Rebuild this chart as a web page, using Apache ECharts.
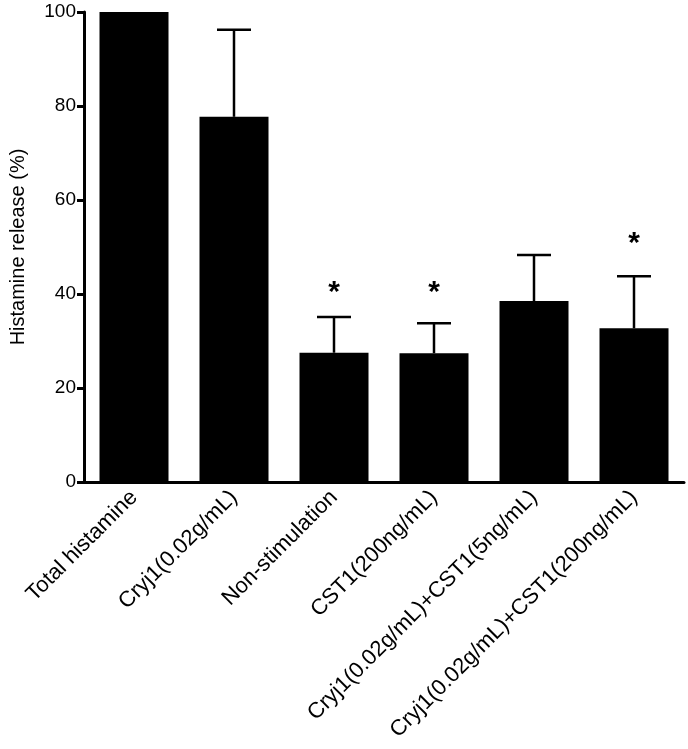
<!DOCTYPE html>
<html>
<head>
<meta charset="utf-8">
<script src="https://cdn.jsdelivr.net/npm/echarts@6/dist/echarts.min.js"></script>
<style>
  html, body { margin: 0; padding: 0; background: #fff; }
  #chart { width: 688px; height: 749px; }
</style>
</head>
<body>
<div id="chart"></div>
<script>
// data
var categories = ['Total histamine', 'Cryj1(0.02g/mL)', 'Non-stimulation', 'CST1(200ng/mL)',
                  'Cryj1(0.02g/mL)+CST1(5ng/mL)', 'Cryj1(0.02g/mL)+CST1(200ng/mL)'];
var means = [100, 77.7, 27.5, 27.4, 38.5, 32.7];
var errTops = [null, 96.2, 35.1, 33.8, 48.3, 43.8];
var starAt = [null, null, 41.6, 41.6, null, 51.9];
var yTicks = [0, 20, 40, 60, 80, 100];

var chart = echarts.init(document.getElementById('chart'));

var font = 'Liberation Sans, Arial, sans-serif';

var option = {
    backgroundColor: '#fff',
    animation: false,
    grid: { left: 84, right: 4, top: 12, bottom: 267 },
    xAxis: {
        type: 'category',
        data: categories,
        axisLine: { lineStyle: { color: '#000', width: 3 } },
        axisTick: { alignWithLabel: true, length: 7, lineStyle: { color: '#000', width: 3 } },
        axisLabel: {
            rotate: 45, interval: 0, margin: 12,
            color: '#000', fontSize: 22, fontFamily: font
        }
    },
    yAxis: {
        type: 'value',
        min: yTicks[0], max: yTicks[yTicks.length - 1], interval: 20,
        name: 'Histamine release (%)',
        nameLocation: 'middle',
        nameGap: 56,
        nameTextStyle: { color: '#000', fontSize: 20, fontFamily: font },
        axisLine: { show: true, lineStyle: { color: '#000', width: 3 } },
        axisTick: { show: true, length: 7, lineStyle: { color: '#000', width: 3 } },
        axisLabel: { color: '#000', fontSize: 19, fontFamily: font, margin: 8 },
        splitLine: { show: false }
    },
    series: [
        {
            type: 'bar',
            data: means,
            barWidth: '69%',
            itemStyle: { color: '#000' },
            z: 2
        },
        {
            // error bars (upper only)
            type: 'custom',
            data: errTops.map(function (v, i) { return [i, means[i], v]; }),
            renderItem: function (params, api) {
                if (api.value(2) == null || isNaN(api.value(2))) return;
                var base = api.coord([api.value(0), api.value(1)]);
                var top = api.coord([api.value(0), api.value(2)]);
                var half = 17;
                var st = { stroke: '#000', lineWidth: 2.5 };
                return {
                    type: 'group',
                    children: [
                        { type: 'line', shape: { x1: base[0], y1: base[1], x2: top[0], y2: top[1] }, style: st },
                        { type: 'line', shape: { x1: top[0] - half, y1: top[1], x2: top[0] + half, y2: top[1] }, style: st }
                    ]
                };
            },
            z: 3
        },
        {
            // significance stars
            type: 'custom',
            data: starAt.map(function (v, i) { return [i, v]; }),
            renderItem: function (params, api) {
                if (api.value(1) == null || isNaN(api.value(1))) return;
                var p = api.coord([api.value(0), api.value(1)]);
                return {
                    type: 'text',
                    x: p[0], y: p[1] + 6,
                    style: {
                        text: '*', fill: '#000',
                        font: 'bold 30px ' + font,
                        align: 'center', verticalAlign: 'middle'
                    }
                };
            },
            z: 4
        }
    ]
};

chart.setOption(option);
</script>
</body>
</html>
